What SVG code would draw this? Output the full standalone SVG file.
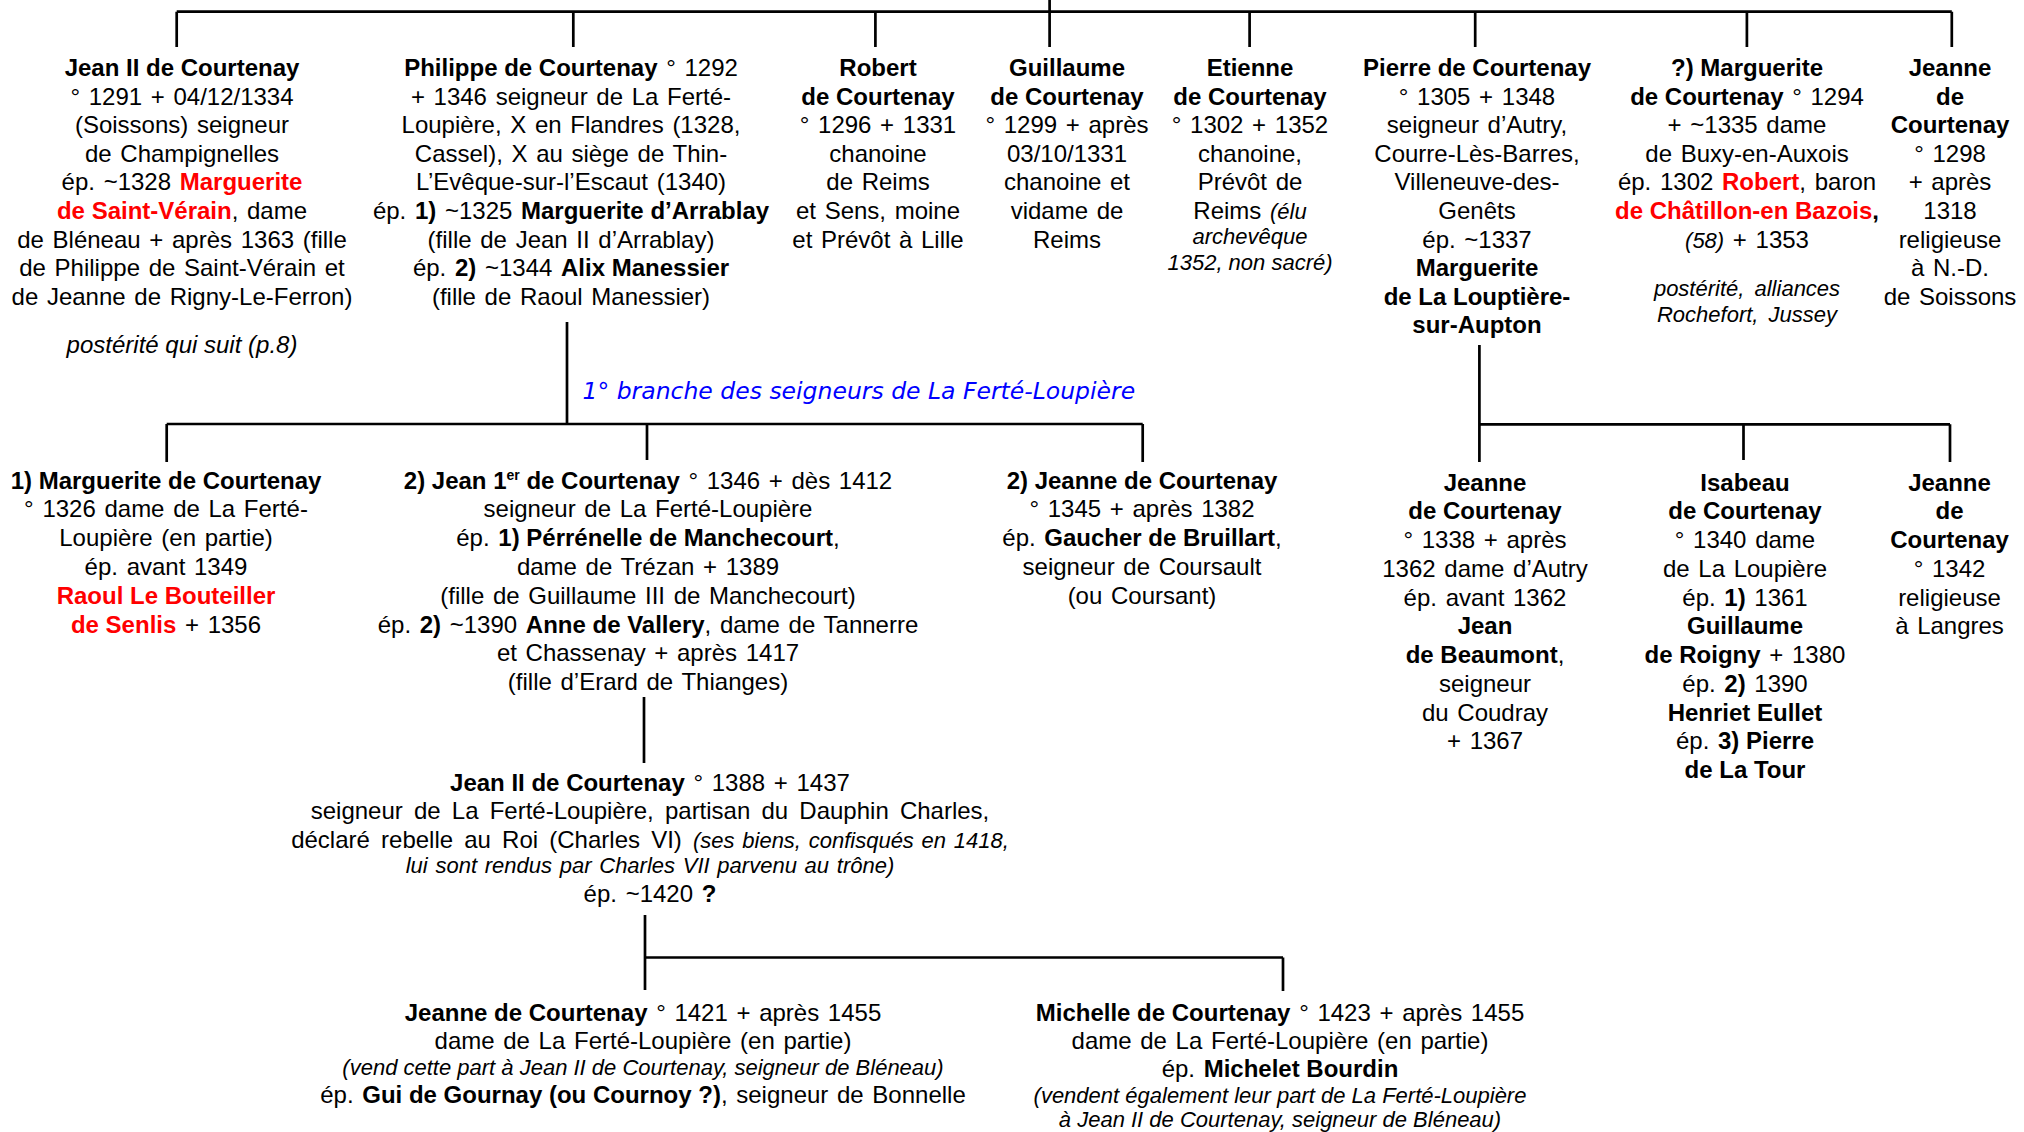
<svg xmlns="http://www.w3.org/2000/svg" width="2024" height="1132" viewBox="0 0 2024 1132">
<style>
.bg{fill:#fff}
.ln{fill:none;stroke:#000;stroke-width:2.7}
text{font-family:"Liberation Sans",Arial,sans-serif;font-size:24px;fill:#000;text-anchor:middle;word-spacing:2px}
.b{font-weight:bold;word-spacing:0}
.i{font-style:italic;font-size:22px;word-spacing:0}
.r{fill:#ff0000}
.sup{font-size:14px;font-weight:bold}
.lbl{font-family:"DejaVu Sans",Verdana,sans-serif;font-style:italic;font-size:23.5px;fill:#0000ff;text-anchor:start;word-spacing:0}
.ws{word-spacing:4.5px}
.wi{word-spacing:1.6px}
</style>
<rect class="bg" x="0" y="0" width="2024" height="1132"/>
<g id="connectors">
<path class="ln" d="M176.7 11.7H1951.8M176.7 11.7V47M573.3 11.7V47M875.4 11.7V47M1049.6 0V47M1249.6 11.7V47M1475.2 11.7V47M1746.9 11.7V47M1951.8 11.7V47"/>
<path class="ln" d="M567 322V424M166.7 424H1142.7M166.7 424V462M647 424V460M1142.7 424V462"/>
<path class="ln" d="M644 697V763"/>
<path class="ln" d="M645 915V990M645 957.5H1283M1283 957.5V991"/>
<path class="ln" d="M1479.4 345V462M1479.4 424.3H1950M1743.5 424.3V460M1950 424.3V462"/>
</g>
<g id="label"><text class="lbl" x="582.5" y="399.3">1° branche des seigneurs de La Ferté-Loupière</text></g>
<g id="jean2-top">
<text x="182" y="76" class="b">Jean II de Courtenay</text>
<text x="182" y="104.6">° 1291 + 04/12/1334</text>
<text x="182" y="133.2">(Soissons) seigneur</text>
<text x="182" y="161.8">de Champignelles</text>
<text x="182" y="190.4">ép. ~1328 <tspan class="b r">Marguerite</tspan></text>
<text x="182" y="219"><tspan class="b r">de Saint-Vérain</tspan>, dame</text>
<text x="182" y="247.6">de Bléneau + après 1363 (fille</text>
<text x="182" y="276.2">de Philippe de Saint-Vérain et</text>
<text x="182" y="304.8">de Jeanne de Rigny-Le-Ferron)</text>
<text x="182" y="353" class="i" style="font-size:24px">postérité qui suit (p.8)</text>
</g>
<g id="philippe">
<text x="571" y="76"><tspan class="b">Philippe de Courtenay</tspan> ° 1292</text>
<text x="571" y="104.6">+ 1346 seigneur de La Ferté-</text>
<text x="571" y="133.2">Loupière, X en Flandres (1328,</text>
<text x="571" y="161.8">Cassel), X au siège de Thin-</text>
<text x="571" y="190.4">L’Evêque-sur-l’Escaut (1340)</text>
<text x="571" y="219">ép. <tspan class="b">1)</tspan> ~1325 <tspan class="b">Marguerite d’Arrablay</tspan></text>
<text x="571" y="247.6">(fille de Jean II d’Arrablay)</text>
<text x="571" y="276.2">ép. <tspan class="b">2)</tspan> ~1344 <tspan class="b">Alix Manessier</tspan></text>
<text x="571" y="304.8">(fille de Raoul Manessier)</text>
</g>
<g id="robert">
<text x="878" y="76" class="b">Robert</text>
<text x="878" y="104.6" class="b">de Courtenay</text>
<text x="878" y="133.2">° 1296 + 1331</text>
<text x="878" y="161.8">chanoine</text>
<text x="878" y="190.4">de Reims</text>
<text x="878" y="219">et Sens, moine</text>
<text x="878" y="247.6">et Prévôt à Lille</text>
</g>
<g id="guillaume">
<text x="1067" y="76" class="b">Guillaume</text>
<text x="1067" y="104.6" class="b">de Courtenay</text>
<text x="1067" y="133.2">° 1299 + après</text>
<text x="1067" y="161.8">03/10/1331</text>
<text x="1067" y="190.4">chanoine et</text>
<text x="1067" y="219">vidame de</text>
<text x="1067" y="247.6">Reims</text>
</g>
<g id="etienne">
<text x="1250" y="76" class="b">Etienne</text>
<text x="1250" y="104.6" class="b">de Courtenay</text>
<text x="1250" y="133.2">° 1302 + 1352</text>
<text x="1250" y="161.8">chanoine,</text>
<text x="1250" y="190.4">Prévôt de</text>
<text x="1250" y="219">Reims <tspan class="i">(élu</tspan></text>
<text x="1250" y="244" class="i">archevêque</text>
<text x="1250" y="270" class="i">1352, non sacré)</text>
</g>
<g id="pierre">
<text x="1477" y="76" class="b">Pierre de Courtenay</text>
<text x="1477" y="104.6">° 1305 + 1348</text>
<text x="1477" y="133.2">seigneur d’Autry,</text>
<text x="1477" y="161.8">Courre-Lès-Barres,</text>
<text x="1477" y="190.4">Villeneuve-des-</text>
<text x="1477" y="219">Genêts</text>
<text x="1477" y="247.6">ép. ~1337</text>
<text x="1477" y="276.2" class="b">Marguerite</text>
<text x="1477" y="304.8" class="b">de La Louptière-</text>
<text x="1477" y="333.4" class="b">sur-Aupton</text>
</g>
<g id="marguerite-top">
<text x="1747" y="76" class="b">?) Marguerite</text>
<text x="1747" y="104.6"><tspan class="b">de Courtenay</tspan> ° 1294</text>
<text x="1747" y="133.2">+ ~1335 dame</text>
<text x="1747" y="161.8">de Buxy-en-Auxois</text>
<text x="1747" y="190.4">ép. 1302 <tspan class="b r">Robert</tspan>, baron</text>
<text x="1747" y="219"><tspan class="b r">de Châtillon-en Bazois</tspan><tspan class="b">,</tspan></text>
<text x="1747" y="247.6"><tspan class="i">(58)</tspan> + 1353</text>
<text x="1747" y="296" class="i" style="word-spacing:4px">postérité, alliances</text>
<text x="1747" y="321.7" class="i" style="word-spacing:4px">Rochefort, Jussey</text>
</g>
<g id="jeanne-top">
<text x="1950" y="76" class="b">Jeanne</text>
<text x="1950" y="104.6" class="b">de</text>
<text x="1950" y="133.2" class="b">Courtenay</text>
<text x="1950" y="161.8">° 1298</text>
<text x="1950" y="190.4">+ après</text>
<text x="1950" y="219">1318</text>
<text x="1950" y="247.6">religieuse</text>
<text x="1950" y="276.2">à N.-D.</text>
<text x="1950" y="304.8">de Soissons</text>
</g>
<g id="marguerite-1">
<text x="166" y="488.5" class="b">1) Marguerite de Courtenay</text>
<text x="166" y="517.3">° 1326 dame de La Ferté-</text>
<text x="166" y="546.1">Loupière (en partie)</text>
<text x="166" y="574.9">ép. avant 1349</text>
<text x="166" y="603.7" class="b r">Raoul Le Bouteiller</text>
<text x="166" y="632.5"><tspan class="b r">de Senlis</tspan> + 1356</text>
</g>
<g id="jean1">
<text x="648" y="488.5"><tspan class="b">2) Jean 1</tspan><tspan class="sup" dy="-9">er</tspan><tspan class="b" dy="9"> de Courtenay</tspan> ° 1346 + dès 1412</text>
<text x="648" y="517.3">seigneur de La Ferté-Loupière</text>
<text x="648" y="546.1">ép. <tspan class="b">1) Pérrénelle de Manchecourt</tspan>,</text>
<text x="648" y="574.9">dame de Trézan + 1389</text>
<text x="648" y="603.7">(fille de Guillaume III de Manchecourt)</text>
<text x="648" y="632.5">ép. <tspan class="b">2)</tspan> ~1390 <tspan class="b">Anne de Vallery</tspan>, dame de Tannerre</text>
<text x="648" y="661.3">et Chassenay + après 1417</text>
<text x="648" y="690.1">(fille d’Erard de Thianges)</text>
</g>
<g id="jeanne-2">
<text x="1142" y="488.5" class="b">2) Jeanne de Courtenay</text>
<text x="1142" y="517.3">° 1345 + après 1382</text>
<text x="1142" y="546.1">ép. <tspan class="b">Gaucher de Bruillart</tspan>,</text>
<text x="1142" y="574.9">seigneur de Coursault</text>
<text x="1142" y="603.7">(ou Coursant)</text>
</g>
<g id="jeanne-autry">
<text x="1485" y="490.5" class="b">Jeanne</text>
<text x="1485" y="519.25" class="b">de Courtenay</text>
<text x="1485" y="548">° 1338 + après</text>
<text x="1485" y="576.75">1362 dame d’Autry</text>
<text x="1485" y="605.5">ép. avant 1362</text>
<text x="1485" y="634.25" class="b">Jean</text>
<text x="1485" y="663"><tspan class="b">de Beaumont</tspan>,</text>
<text x="1485" y="691.75">seigneur</text>
<text x="1485" y="720.5">du Coudray</text>
<text x="1485" y="749.25">+ 1367</text>
</g>
<g id="isabeau">
<text x="1745" y="490.5" class="b">Isabeau</text>
<text x="1745" y="519.25" class="b">de Courtenay</text>
<text x="1745" y="548">° 1340 dame</text>
<text x="1745" y="576.75">de La Loupière</text>
<text x="1745" y="605.5">ép. <tspan class="b">1)</tspan> 1361</text>
<text x="1745" y="634.25" class="b">Guillaume</text>
<text x="1745" y="663"><tspan class="b">de Roigny</tspan> + 1380</text>
<text x="1745" y="691.75">ép. <tspan class="b">2)</tspan> 1390</text>
<text x="1745" y="720.5" class="b">Henriet Eullet</text>
<text x="1745" y="749.25">ép. <tspan class="b">3) Pierre</tspan></text>
<text x="1745" y="778" class="b">de La Tour</text>
</g>
<g id="jeanne-langres">
<text x="1949.5" y="490.5" class="b">Jeanne</text>
<text x="1949.5" y="519.25" class="b">de</text>
<text x="1949.5" y="548" class="b">Courtenay</text>
<text x="1949.5" y="576.75">° 1342</text>
<text x="1949.5" y="605.5">religieuse</text>
<text x="1949.5" y="634.25">à Langres</text>
</g>
<g id="jean2-1388">
<text x="650" y="790.7"><tspan class="b">Jean II de Courtenay</tspan> ° 1388 + 1437</text>
<text x="650" y="819.3" class="ws">seigneur de La Ferté-Loupière, partisan du Dauphin Charles,</text>
<text x="650" y="848.3" class="ws">déclaré rebelle au Roi (Charles VI) <tspan class="i wi">(ses biens, confisqués en 1418,</tspan></text>
<text x="650" y="873.3" class="i wi">lui sont rendus par Charles VII parvenu au trône)</text>
<text x="650" y="901.7">ép. ~1420 <tspan class="b">?</tspan></text>
</g>
<g id="jeanne-1421">
<text x="643" y="1020.7"><tspan class="b">Jeanne de Courtenay</tspan> ° 1421 + après 1455</text>
<text x="643" y="1049.3">dame de La Ferté-Loupière (en partie)</text>
<text x="643" y="1075" class="i">(vend cette part à Jean II de Courtenay, seigneur de Bléneau)</text>
<text x="643" y="1102.7">ép. <tspan class="b">Gui de Gournay (ou Cournoy ?)</tspan>, seigneur de Bonnelle</text>
</g>
<g id="michelle">
<text x="1280" y="1020.7"><tspan class="b">Michelle de Courtenay</tspan> ° 1423 + après 1455</text>
<text x="1280" y="1049.3">dame de La Ferté-Loupière (en partie)</text>
<text x="1280" y="1076.7">ép. <tspan class="b">Michelet Bourdin</tspan></text>
<text x="1280" y="1102.7" class="i">(vendent également leur part de La Ferté-Loupière</text>
<text x="1280" y="1126.7" class="i">à Jean II de Courtenay, seigneur de Bléneau)</text>
</g>
</svg>
